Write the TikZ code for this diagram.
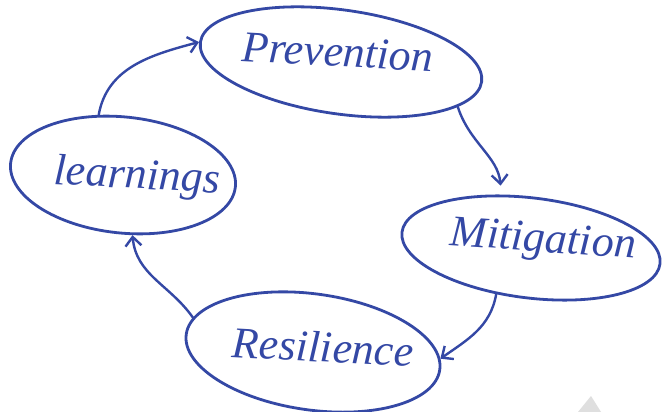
\documentclass[tikz,border=0pt]{standalone}
\usepackage{fontspec}
\setmainfont{Liberation Serif}
\usetikzlibrary{shapes.geometric,arrows.meta}
\definecolor{pen}{RGB}{52,72,165}
\tikzset{
  bubble/.style={draw=pen, line width=2.8pt, ellipse, inner sep=0pt},
  word/.style={text=pen, font=\fontsize{44}{44}\selectfont\itshape, inner sep=0pt},
  flow/.style={draw=pen, line width=2.4pt, line cap=round,
    -{Straight Barb[length=9pt,width=16pt,line width=2.4pt]}},
}
\begin{document}
\begin{tikzpicture}[x=1pt,y=-1pt]
\useasboundingbox (0,0) rectangle (662,412);
\fill[white] (0,0) rectangle (662,412);

% the four stages
\node[bubble, minimum width=284pt, minimum height=104pt, rotate=-8] (prev) at (341,62) {};
\node[bubble, minimum width=260pt, minimum height=100pt, rotate=-7] (mit) at (531,248) {};
\node[bubble, minimum width=256pt, minimum height=116pt, rotate=-8] (res) at (313,352) {};
\node[bubble, minimum width=226pt, minimum height=116pt, rotate=-6] (learn) at (123,175) {};

\node[word, rotate=-3] (prevtext) at (338,52) {Prevention};
\node[word, rotate=-4] (mittext) at (543,242) {Mitigation};
\node[word, rotate=-3] (restext) at (323,347) {Resilience};
\node[word, rotate=-3] (learntext) at (137,178) {learnings};

% the cycle
\draw[flow] (learn.118) to[out=80,in=195] (prev.180);
\draw[flow, shorten >=9pt] (prev.347) to[out=-72,in=95] (mit.126);
\draw[flow] (mit.240) to[out=-100,in=35] (res.5);
\draw[flow] (res.172) to[out=125,in=-85] (learn.285);

% light fold mark at the lower edge
\fill[gray!25] (578,412) -- (591,396) -- (601,412) -- cycle;
\end{tikzpicture}
\end{document}
